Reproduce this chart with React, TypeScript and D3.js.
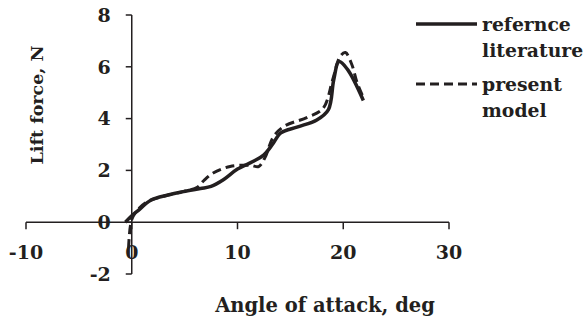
import { useEffect, useRef } from 'react';
import * as d3 from 'd3';

// reference literature (solid)
const refAngle = [-0.6, 0, 0.6, 1.8, 3.4, 4.9, 6.5, 7.5, 8.7, 10, 11.5, 12.5, 13.3, 14.1, 15.7, 17.5, 18.6, 19.1, 19.6, 20.4, 21.9];
const refLift = [0, 0.25, 0.45, 0.85, 1.05, 1.18, 1.3, 1.38, 1.65, 2.05, 2.35, 2.6, 3.0, 3.45, 3.68, 3.95, 4.35, 5.5, 6.2, 5.9, 4.7];

// present model (dashed)
const modelAngle = [-0.3, 0, 0.6, 1.5, 3, 5, 6.2, 6.8, 7.7, 9.3, 11.2, 12.0, 12.6, 13.4, 14.4, 16.6, 18.1, 19, 19.7, 20.2, 20.8, 21.3, 21.8];
const modelLift = [-1.0, 0.1, 0.5, 0.8, 1.0, 1.2, 1.35, 1.6, 1.9, 2.15, 2.2, 2.15, 2.5, 3.3, 3.7, 4.05, 4.4, 5.5, 6.4, 6.55, 6.1, 5.4, 4.9];

const xTicks = [-10, 0, 10, 20, 30];
const yTicks = [-2, 0, 2, 4, 6, 8];

const FONT = '"DejaVu Serif", serif';
const INK = '#231f20';

export default function App() {
  const svgRef = useRef<SVGSVGElement>(null);

  useEffect(() => {
    if (!svgRef.current) return;
    const width = 583;
    const height = 321;
    const svg = d3.select(svgRef.current);
    svg.selectAll('*').remove();
    svg.attr('width', width).attr('height', height);

    const x = d3.scaleLinear().domain([-10, 30]).range([26, 449]);
    const y = d3.scaleLinear().domain([-2, 8]).range([274, 15]);

    // x axis at y = 0
    const xAxis = svg.append('g').attr('transform', `translate(0,${y(0)})`);
    xAxis.append('line')
      .attr('x1', x(-10)).attr('x2', x(30))
      .attr('stroke', INK).attr('stroke-width', 1.5);
    xAxis.selectAll('line.tick')
      .data(xTicks)
      .enter().append('line')
      .attr('class', 'tick')
      .attr('x1', d => x(d)).attr('x2', d => x(d))
      .attr('y1', 0).attr('y2', 7)
      .attr('stroke', INK).attr('stroke-width', 1.5);
    xAxis.selectAll('text')
      .data(xTicks)
      .enter().append('text')
      .attr('x', d => x(d))
      .attr('y', 37)
      .attr('text-anchor', 'middle')
      .attr('font-family', FONT)
      .attr('font-weight', 'bold')
      .attr('font-size', '19px')
      .attr('fill', INK)
      .text(d => d);

    // y axis at x = 0
    const yAxis = svg.append('g').attr('transform', `translate(${x(0)},0)`);
    yAxis.append('line')
      .attr('y1', y(-2)).attr('y2', y(8))
      .attr('stroke', INK).attr('stroke-width', 1.5);
    yAxis.selectAll('line.tick')
      .data(yTicks)
      .enter().append('line')
      .attr('class', 'tick')
      .attr('y1', d => y(d)).attr('y2', d => y(d))
      .attr('x1', -6).attr('x2', 0)
      .attr('stroke', INK).attr('stroke-width', 1.5);
    yAxis.selectAll('text')
      .data(yTicks)
      .enter().append('text')
      .attr('x', -21)
      .attr('y', d => y(d))
      .attr('dy', '0.36em')
      .attr('text-anchor', 'end')
      .attr('font-family', FONT)
      .attr('font-weight', 'bold')
      .attr('font-size', '19px')
      .attr('fill', INK)
      .text(d => d);

    // Lines
    const line = d3.line<[number, number]>()
      .x(d => x(d[0]))
      .y(d => y(d[1]))
      .curve(d3.curveCatmullRom.alpha(0.5));

    const refData = refAngle.map((a, i) => [a, refLift[i]] as [number, number]);
    const modelData = modelAngle.map((a, i) => [a, modelLift[i]] as [number, number]);

    svg.append('path')
      .datum(refData)
      .attr('fill', 'none')
      .attr('stroke', INK)
      .attr('stroke-width', 3.5)
      .attr('d', line);

    svg.append('path')
      .datum(modelData)
      .attr('fill', 'none')
      .attr('stroke', INK)
      .attr('stroke-width', 3)
      .attr('stroke-dasharray', '9,5')
      .attr('d', line);

    // Axis titles
    svg.append('text')
      .attr('x', 325)
      .attr('y', 312)
      .attr('text-anchor', 'middle')
      .attr('font-family', FONT)
      .attr('font-weight', 'bold')
      .attr('font-size', '19.5px')
      .attr('fill', INK)
      .text('Angle of attack, deg');

    svg.append('text')
      .attr('transform', 'rotate(-90)')
      .attr('x', -105)
      .attr('y', 43)
      .attr('text-anchor', 'middle')
      .attr('font-family', FONT)
      .attr('font-weight', 'bold')
      .attr('font-size', '17.5px')
      .attr('fill', INK)
      .text('Lift force, N');

    // Legend
    const legend = svg.append('g');
    const items = [
      { lines: ['refernce', 'literature'], dash: null, w: 3.5, y: 24 },
      { lines: ['present', 'model'], dash: '9,5', w: 3, y: 84 },
    ];
    items.forEach(item => {
      legend.append('line')
        .attr('x1', 416).attr('x2', 477)
        .attr('y1', item.y).attr('y2', item.y)
        .attr('stroke', INK)
        .attr('stroke-width', item.w)
        .attr('stroke-dasharray', item.dash);
      item.lines.forEach((t, j) => {
        legend.append('text')
          .attr('x', 482)
          .attr('y', item.y + 7 + j * 26)
          .attr('font-family', FONT)
          .attr('font-weight', 'bold')
          .attr('font-size', '18.8px')
          .attr('fill', INK)
          .text(t);
      });
    });
  }, []);

  return (
    <div style={{ position: 'absolute', left: 0, top: 0 }}>
      <svg ref={svgRef}></svg>
    </div>
  );
}
